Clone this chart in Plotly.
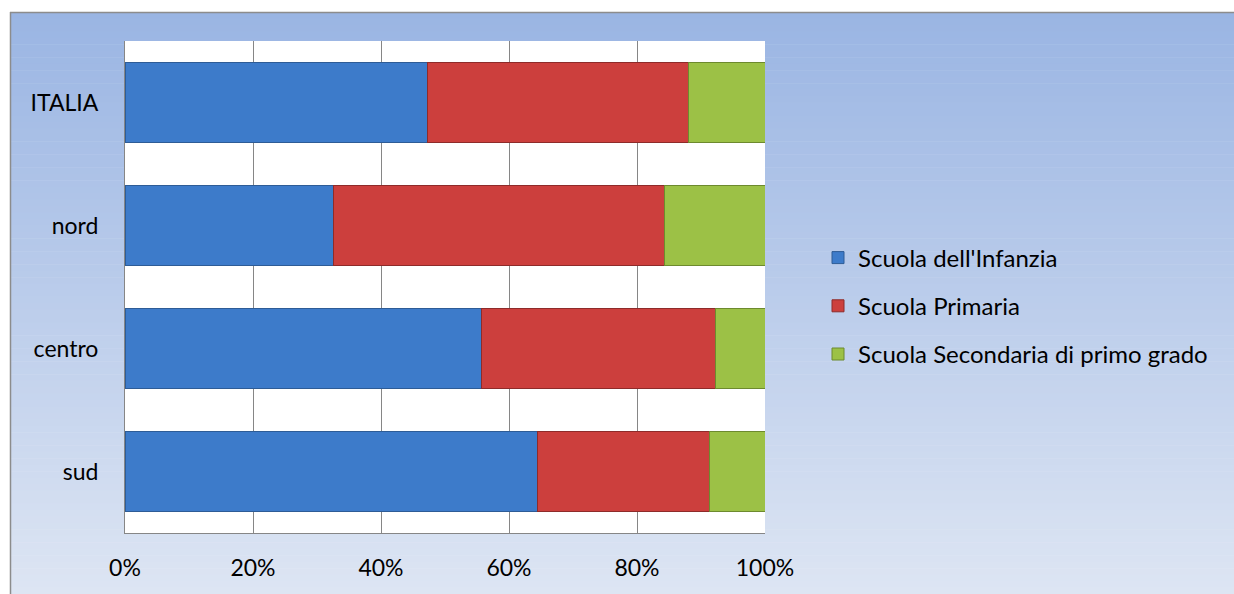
import plotly.graph_objects as go

categories = ["ITALIA", "nord", "centro", "sud"]
infanzia = [47.2, 32.6, 55.7, 64.4]
primaria = [40.9, 51.7, 36.5, 26.9]
secondaria = [11.9, 15.7, 7.8, 8.7]
series_names = ["Scuola dell'Infanzia", "Scuola Primaria", "Scuola Secondaria di primo grado"]
series_colors = ["#3D7BCA", "#CC3F3D", "#9CC146"]
series_lines = ["#2E5C96", "#8E2B2A", "#6D8A2E"]
tick_vals = [0, 20, 40, 60, 80, 100]
tick_text = ["0%", "20%", "40%", "60%", "80%", "100%"]

W, H = 1234, 594
L, R, T, B = 125, 765, 41, 533

def px_x(px):
    return (px - L) / (R - L)

def px_y(py):
    return (B - py) / (B - T)

fig = go.Figure()
for name, vals, col, lc in zip(series_names, [infanzia, primaria, secondaria], series_colors, series_lines):
    fig.add_trace(go.Bar(
        y=categories, x=vals, name=name, orientation="h",
        marker=dict(color=col, line=dict(color=lc, width=1)),
        legendgroup=name,
    ))

# background gradient
shapes = []
n = 90
top_c = (154, 181, 227)
bot_c = (221, 229, 243)
y0px, y1px = 12, H
for i in range(n):
    a = y0px + (y1px - y0px) * i / n
    b = y0px + (y1px - y0px) * (i + 1) / n
    t = i / (n - 1)
    c = tuple(int(round(top_c[k] + (bot_c[k] - top_c[k]) * t)) for k in range(3))
    shapes.append(dict(type="rect", xref="paper", yref="paper",
                       x0=px_x(10), x1=px_x(W + 5), y0=px_y(b + 0.5), y1=px_y(a),
                       fillcolor="rgb(%d,%d,%d)" % c, line=dict(width=0), layer="below"))
# plot area white
shapes.append(dict(type="rect", xref="paper", yref="paper", x0=0, x1=1, y0=0, y1=1,
                   fillcolor="white", line=dict(width=0), layer="below"))
# outer border
shapes.append(dict(type="line", xref="paper", yref="paper", x0=px_x(10.5), x1=px_x(10.5),
                   y0=px_y(12), y1=px_y(H + 5), line=dict(color="#8C8C8C", width=1.5)))
shapes.append(dict(type="line", xref="paper", yref="paper", x0=px_x(10), x1=px_x(W + 5),
                   y0=px_y(12.5), y1=px_y(12.5), line=dict(color="#8C8C8C", width=1.5)))

fig.update_layout(
    width=W, height=H,
    margin=dict(l=L, r=W - R, t=T, b=H - B),
    barmode="stack", bargap=0.35,
    paper_bgcolor="white", plot_bgcolor="rgba(0,0,0,0)",
    font=dict(family="Lato, sans-serif", size=23, color="black"),
    shapes=shapes,
    showlegend=True,
    legend=dict(x=px_x(818), y=px_y(306), xanchor="left", yanchor="middle",
                bgcolor="rgba(0,0,0,0)", tracegroupgap=14, traceorder="grouped",
                font=dict(size=24)),
    xaxis=dict(range=[0, 100], tickvals=tick_vals, ticktext=tick_text,
               showgrid=True, gridcolor="#868686", gridwidth=1,
               showline=True, linecolor="#868686", linewidth=1,
               zeroline=False, ticks="", ticklabelstandoff=14, fixedrange=True),
    yaxis=dict(categoryorder="array", categoryarray=categories, autorange="reversed",
               showline=True, linecolor="#868686", linewidth=1, ticks="",
               ticklabelstandoff=21, showgrid=False, fixedrange=True),
)

fig.write_html("out.html")
